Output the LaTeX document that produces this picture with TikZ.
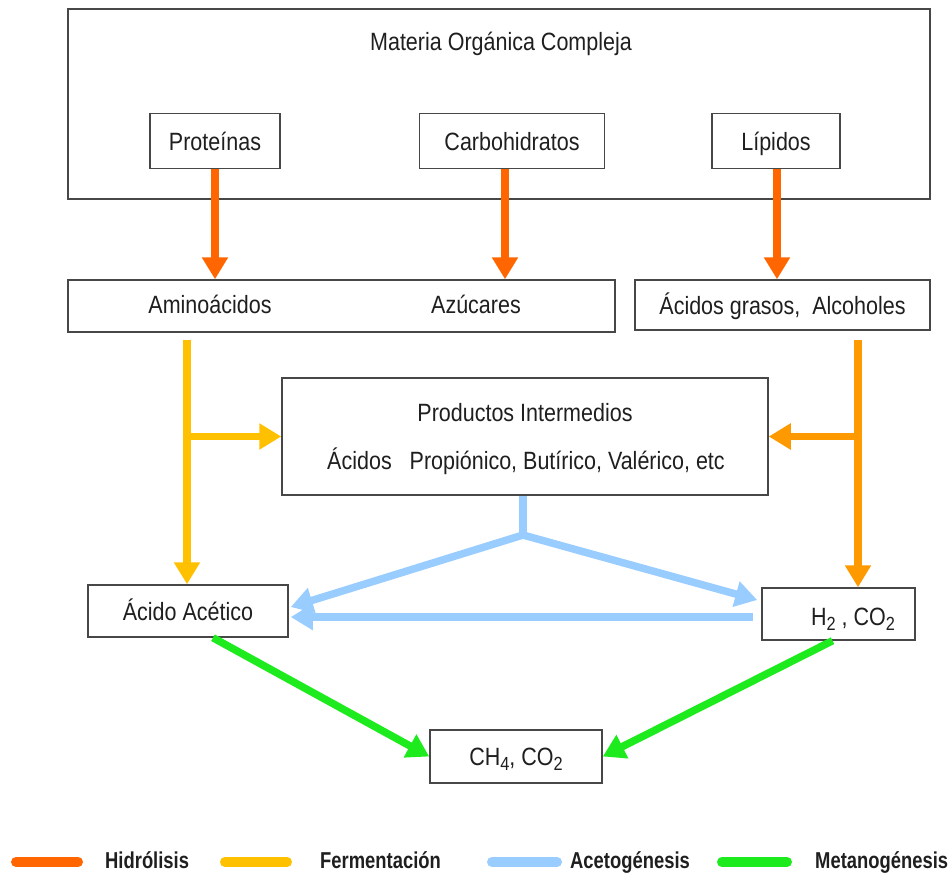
\documentclass[tikz,border=0pt]{standalone}
\usepackage{fontspec}
\setmainfont{Liberation Sans}[FakeStretch=0.86]
\newfontfamily\legfont[FakeStretch=0.8]{Liberation Sans}
\usetikzlibrary{arrows.meta}
\definecolor{hydro}{RGB}{255,102,0}
\definecolor{fermL}{RGB}{255,192,0}
\definecolor{fermR}{RGB}{255,153,0}
\definecolor{aceto}{RGB}{153,204,255}
\definecolor{metano}{RGB}{30,235,30}
\newcommand\sbs[1]{\raisebox{-0.4ex}{\fontsize{19}{19}\selectfont #1}}
\begin{document}
\begin{tikzpicture}[x=1pt,y=-1pt,
  box/.style={draw=black!72,line width=1.5pt,inner sep=0pt,fill=white},
  txt/.style={inner sep=0pt,text height=22pt,text depth=4pt,text=black!88,font=\fontsize{25}{29}\selectfont},
  flow/.style={line width=7.5pt,-{Triangle[width=25pt,length=22pt]}},
  hyd/.style={flow,draw=hydro},
  ferL/.style={flow,draw=fermL},
  ferR/.style={flow,draw=fermR},
  ace/.style={flow,draw=aceto},
  met/.style={flow,draw=metano},
  legbar/.style={line width=10pt,line cap=round},
  legtxt/.style={inner sep=0pt,anchor=base west,text=black!88,font=\legfont\bfseries\fontsize{23}{27}\selectfont}]
\useasboundingbox (0,0) rectangle (952,875);

% boxes
\node[box,minimum width=862pt,minimum height=190pt] (mat) at (499,104) {};
\node[txt] (mattxt) at (501,42) {Materia Orgánica Compleja};
\node[box,txt,minimum width=130pt,minimum height=55pt] (prot) at (215,141) {Proteínas};
\node[box,txt,minimum width=185pt,minimum height=55pt] (carb) at (512,141) {Carbohidratos};
\node[box,txt,minimum width=128pt,minimum height=55pt] (lip) at (776,141) {Lípidos};

\node[box,minimum width=547pt,minimum height=52pt] (amaz) at (341.5,306) {};
\node[txt] (amino) at (210,304) {Aminoácidos};
\node[txt] (azuc) at (476,304) {Azúcares};
\node[box,txt,minimum width=295pt,minimum height=50pt] (grasos) at (782.5,305) {Ácidos grasos,\ \ Alcoholes};

\node[box,minimum width=486pt,minimum height=117pt] (prod) at (525,436.5) {};
\node[txt] (prod1) at (525,412) {Productos Intermedios};
\node[txt] (prod2) at (526,460) {Ácidos\ \ \ Propiónico, Butírico, Valérico, etc};

\node[box,txt,minimum width=200pt,minimum height=52pt] (acet) at (188,611) {Ácido Acético};
\node[box,minimum width=153pt,minimum height=52pt] (h2) at (838.5,614) {};
\node[txt] (h2txt) at (853,616) {H\sbs{2} , CO\sbs{2}};
\node[box,txt,minimum width=172pt,minimum height=53pt] (ch4) at (516,756.5) {CH\sbs{4}, CO\sbs{2}};

% hydrolysis
\draw[hyd] (prot.south) -- (prot.south |- amaz.north);
\draw[hyd] ([xshift=-7pt]carb.south) -- ([xshift=-7pt]carb.south |- amaz.north);
\draw[hyd] ([xshift=1pt]lip.south) -- ([xshift=1pt]lip.south |- grasos.north);

% fermentation
\coordinate (f1) at (187,340);
\coordinate (f2) at (858,340);
\draw[ferL] (f1) -- (f1 |- acet.north);
\draw[ferL] (prod.west -| f1) -- (prod.west);
\draw[ferR] (f2) -- (f2 |- h2.north);
\draw[ferR] (prod.east -| f2) -- (prod.east);

% acetogenesis
\coordinate (b0) at (523,535);
\draw[draw=aceto,line width=7.5pt] (prod.south -| b0) -- ([yshift=-3pt]b0);
\draw[ace] (b0) -- ([xshift=2pt,yshift=4pt]acet.east);
\draw[ace] (b0) -- ([xshift=-4pt,yshift=14pt]h2.west);
\draw[ace] ([xshift=-8pt,yshift=-3pt]h2.west) -- ([xshift=2pt,yshift=-6pt]acet.east);

% methanogenesis
\draw[met] ([xshift=25pt]acet.south) -- (ch4.west);
\draw[met] ([xshift=-6pt]h2.south) -- (ch4.east);

% legend
\draw[legbar,draw=hydro] (16,862) -- (78,862);
\node[legtxt] (l1) at (105,868) {Hidrólisis};
\draw[legbar,draw=fermL] (225,862) -- (287,862);
\node[legtxt] (l2) at (320,868) {Fermentación};
\draw[legbar,draw=aceto] (492,862) -- (557,862);
\node[legtxt] (l3) at (570,868) {Acetogénesis};
\draw[legbar,draw=metano] (722,862) -- (787,862);
\node[legtxt] (l4) at (815,868) {Metanogénesis};
\end{tikzpicture}
\end{document}
